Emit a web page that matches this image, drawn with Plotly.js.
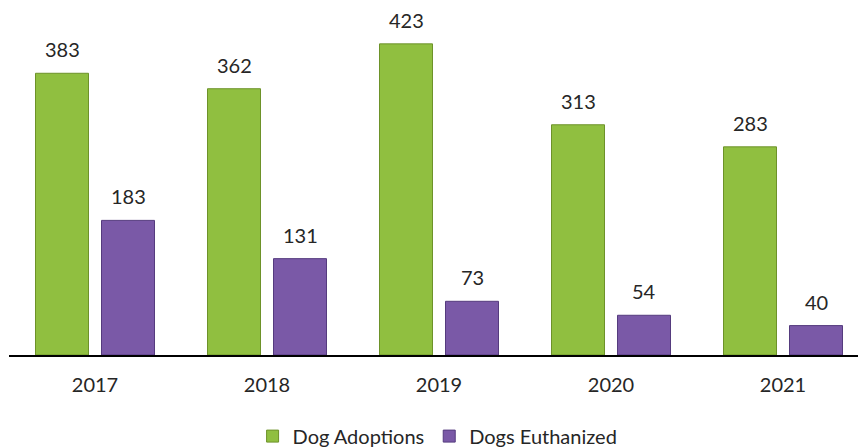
<!DOCTYPE html>
<html>
<head>
<meta charset="utf-8">
<script src="https://cdn.plot.ly/plotly-3.0.1.min.js"></script>
<style>html,body{margin:0;padding:0;background:#fff;}#chart{width:858px;height:447px;}</style>
</head>
<body>
<div id="chart"></div>
<script>
const years = ["2017", "2018", "2019", "2020", "2021"];
const adoptions = [383, 362, 423, 313, 283];
const euthanized = [183, 131, 73, 54, 40];
const seriesNames = ["Dog Adoptions", "Dogs Euthanized"];

const FONT = "Lato, 'Open Sans', sans-serif";
const TXT = "#262626";
const green = "#90bf40";
const purple = "#7a59a7";

const traces = [
  {type: "bar", x: years, y: adoptions, name: seriesNames[0],
   marker: {color: green, line: {color: "#6d9229", width: 1}}, hoverinfo: "x+y"},
  {type: "bar", x: years, y: euthanized, name: seriesNames[1],
   marker: {color: purple, line: {color: "#553b7e", width: 1}}, hoverinfo: "x+y"}
];

const annotations = [];
years.forEach((yr, i) => {
  annotations.push({x: i, y: adoptions[i], xref: "x", yref: "y", text: String(adoptions[i]),
    showarrow: false, xshift: -33, yshift: 24, yanchor: "middle", xanchor: "center",
    font: {family: FONT, size: 20, color: TXT}});
  annotations.push({x: i, y: euthanized[i], xref: "x", yref: "y", text: String(euthanized[i]),
    showarrow: false, xshift: 33, yshift: 24, yanchor: "middle", xanchor: "center",
    font: {family: FONT, size: 20, color: TXT}});
});

const layout = {
  width: 858, height: 447,
  margin: {l: 9, r: 0, t: 24, b: 92},
  paper_bgcolor: "#fff", plot_bgcolor: "#fff",
  barmode: "group", bargap: 0.2326, bargroupgap: 0.197,
  xaxis: {type: "category", range: [-0.5, 4.436], showline: true, linecolor: "#000", linewidth: 2,
    ticks: "", ticklabelstandoff: 11, tickfont: {family: FONT, size: 20, color: TXT},
    showgrid: false, zeroline: false, fixedrange: true},
  yaxis: {range: [0, 450], showticklabels: false, showline: false, ticks: "", showgrid: false, zeroline: false, fixedrange: true},
  showlegend: true,
  legend: {orientation: "h", xref: "container", yref: "container", x: 0.51, xanchor: "center",
    y: 0.068, yanchor: "top", font: {family: FONT, size: 20, color: TXT}, itemwidth: 30,
    traceorder: "normal"},
  annotations: annotations
};

Plotly.newPlot("chart", traces, layout, {displayModeBar: false});
</script>
</body>
</html>
